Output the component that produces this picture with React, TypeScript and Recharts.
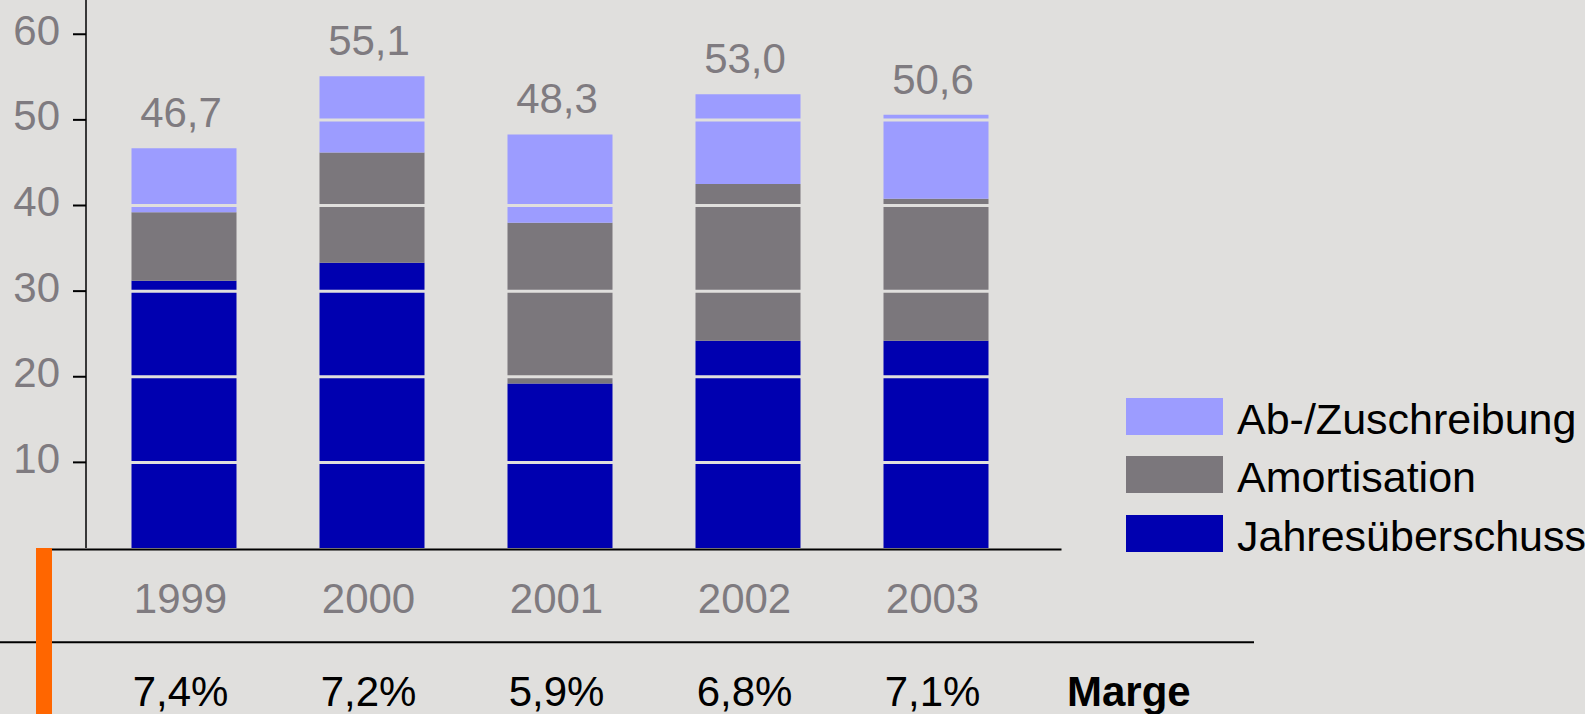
import React from 'react';
import { BarChart, Bar, XAxis, YAxis, ReferenceLine, Legend, LabelList } from 'recharts';

const years = ['1999', '2000', '2001', '2002', '2003'];
const jahresueberschuss = [31.2, 33.3, 19.2, 24.2, 24.2];
const amortisation = [8.0, 12.9, 18.8, 18.3, 16.6];
const abZuschreibung = [7.5, 8.9, 10.3, 10.5, 9.8];
const totals = [46.7, 55.1, 48.3, 53.0, 50.6];
const marge = ['7,4%', '7,2%', '5,9%', '6,8%', '7,1%'];
const yTicks = [10, 20, 30, 40, 50, 60];
const gridValues = [10, 20, 30, 40, 50];

const BG = '#e0dfdd';
const C_J = '#0000b0';
const C_A = '#7b777c';
const C_AB = '#9c9cff';
const GRAY = '#7f7b80';
const GRID = '#e0dfdd';
const FONT = '"Liberation Sans", Arial, Helvetica, sans-serif';

const data = years.map((year, i) => ({
  year,
  j: jahresueberschuss[i],
  a: amortisation[i],
  ab: abZuschreibung[i],
  total: totals[i],
  marge: marge[i],
}));

const fmt = (v: number) => v.toFixed(1).replace('.', ',');

const YTick = (props: any) => {
  const { x, y, payload } = props;
  return (
    <text x={x} y={y} dy={10.5} textAnchor="end" fill={GRAY} fontSize={42} fontFamily={FONT}>
      {payload.value}
    </text>
  );
};

const XTick = (props: any) => {
  const { x, y, payload } = props;
  const idx = years.indexOf(String(payload.value));
  return (
    <g>
      <text x={x - 3} y={y + 65} textAnchor="middle" fill={GRAY} fontSize={42} fontFamily={FONT}>
        {payload.value}
      </text>
      <text x={x - 3} y={y + 158} textAnchor="middle" fill="#000" fontSize={42} fontFamily={FONT}>
        {idx >= 0 ? marge[idx] : ''}
      </text>
    </g>
  );
};

const TotalLabel = (props: any) => {
  const { x, y, width, value } = props;
  return (
    <text x={Number(x) + Number(width) / 2 - 3} y={Number(y) - 21} textAnchor="middle" fill={GRAY} fontSize={42} fontFamily={FONT}>
      {fmt(Number(value))}
    </text>
  );
};

const LegendContent = (props: any) => {
  const items = [...(props.payload || [])];
  const order = ['Ab-/Zuschreibung', 'Amortisation', 'Jahresüberschuss'];
  items.sort((p: any, q: any) => order.indexOf(p.value) - order.indexOf(q.value));
  return (
    <svg width={470} height={160} style={{ display: 'block', overflow: 'visible' }}>
      {items.map((it: any, i: number) => {
        const top = [0, 58, 117][i] ?? i * 58;
        return (
          <g key={i}>
            <rect x={0} y={top} width={97} height={37} fill={it.color} />
            <text x={111} y={top + 36} fill="#000" fontSize={43} fontFamily={FONT}>
              {it.value}
            </text>
          </g>
        );
      })}
    </svg>
  );
};

export default function App() {
  return (
    <div style={{ position: 'absolute', left: 0, top: 0, width: 1585, height: 714, background: BG, overflow: 'hidden' }}>
      <BarChart
        width={1585}
        height={714}
        data={data}
        margin={{ top: 0, right: 524, bottom: 0, left: 0 }}
        barSize={105}
      >
        <XAxis
          dataKey="year"
          height={166}
          axisLine={false}
          tickLine={false}
          tickSize={0}
          tickMargin={0}
          interval={0}
          padding={{ left: 3.5, right: 31.5 }}
          tick={<XTick />}
        />
        <YAxis
          width={86}
          domain={[0, 64]}
          ticks={yTicks}
          interval={0}
          allowDataOverflow
          tickSize={13}
          tickMargin={13}
          axisLine={{ stroke: '#000', strokeWidth: 1.5 }}
          tickLine={{ stroke: '#000', strokeWidth: 2 }}
          tick={<YTick />}
        />
        <Bar dataKey="j" name="Jahresüberschuss" stackId="s" fill={C_J} isAnimationActive={false} />
        <Bar dataKey="a" name="Amortisation" stackId="s" fill={C_A} isAnimationActive={false} />
        <Bar dataKey="ab" name="Ab-/Zuschreibung" stackId="s" fill={C_AB} isAnimationActive={false}>
          <LabelList dataKey="total" content={<TotalLabel />} />
        </Bar>
        {gridValues.map((v) => (
          <ReferenceLine key={v} y={v} stroke={GRID} strokeWidth={3} />
        ))}
        <Legend
          layout="vertical"
          align="center"
          verticalAlign="middle"
          content={<LegendContent />}
          wrapperStyle={{ position: 'absolute', left: 1126, top: 398, width: 470 }}
        />
      </BarChart>
      <svg
        width={1585}
        height={714}
        style={{ position: 'absolute', left: 0, top: 0, pointerEvents: 'none' }}
      >
        <line x1={36} y1={549.5} x2={1061.5} y2={549.5} stroke="#000" strokeWidth={2} />
        <line x1={0} y1={642.3} x2={1254} y2={642.3} stroke="#000" strokeWidth={2} />
        <rect x={36} y={548} width={16} height={166} fill="#ff6600" />
        <text x={1067} y={706} fill="#000" fontSize={42} fontWeight="bold" fontFamily={FONT}>
          Marge
        </text>
      </svg>
    </div>
  );
}
